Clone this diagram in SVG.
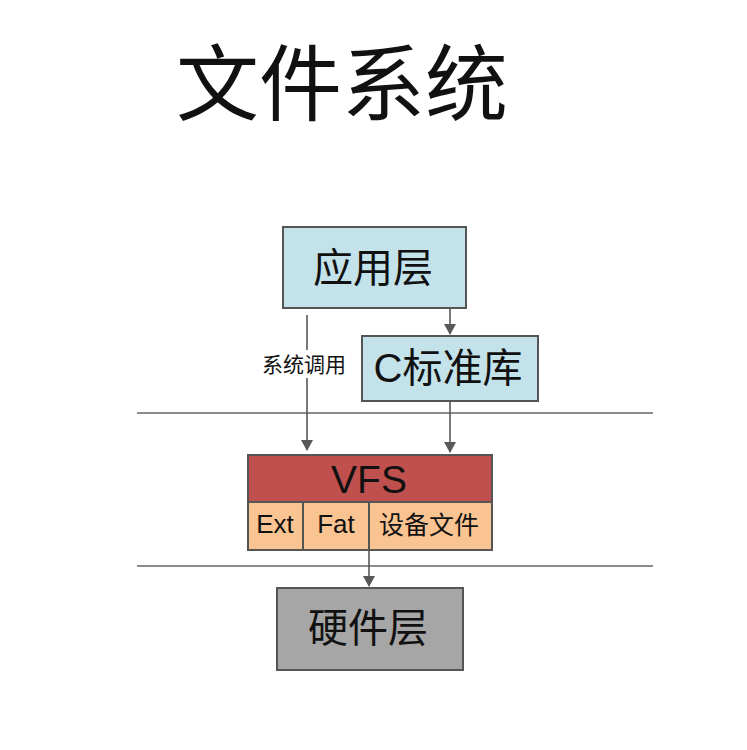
<svg xmlns="http://www.w3.org/2000/svg" width="747" height="750" viewBox="0 0 747 750">
<style>
.cjk{font-family:"Liberation Sans","Noto Sans CJK SC",sans-serif;fill:#111}
.box{stroke:#555;stroke-width:2}
.blue{fill:#c3e2ea}
.ln{stroke:#595959;stroke-width:1.6;fill:none}
.sep{stroke:#666;stroke-width:1.5}
</style>
<defs>
<marker id="ah" markerWidth="12" markerHeight="12" refX="10" refY="6" orient="auto" markerUnits="userSpaceOnUse">
<path d="M0,0 L11,6 L0,12 Z" fill="#595959"/>
</marker>
</defs>
<rect width="747" height="750" fill="#fff"/>
<text class="cjk" x="176" y="114" font-size="83">文件系统</text>
<g id="separators">
<line class="sep" x1="137" y1="413" x2="653" y2="413"/>
<line class="sep" x1="137" y1="566" x2="653" y2="566"/>
</g>
<g id="connectors">
<line class="ln" x1="307" y1="315" x2="307" y2="450" marker-end="url(#ah)"/>
<line class="ln" x1="450" y1="308" x2="450" y2="334" marker-end="url(#ah)"/>
<line class="ln" x1="450" y1="401" x2="450" y2="452" marker-end="url(#ah)"/>
<line class="ln" x1="369" y1="502" x2="369" y2="586" marker-end="url(#ah)"/>
<rect x="259" y="350" width="91" height="28" fill="#fff"/>
<text class="cjk" x="304" y="372" font-size="21" text-anchor="middle">系统调用</text>
</g>
<g id="app">
<rect class="box blue" x="283" y="227" width="183" height="81"/>
<text class="cjk" x="373" y="282" font-size="40" text-anchor="middle">应用层</text>
</g>
<g id="clib">
<rect class="box blue" x="362" y="336" width="176" height="65"/>
<text class="cjk" x="448" y="382" font-size="40" text-anchor="middle">C标准库</text>
</g>
<g id="vfs">
<rect class="box" x="248" y="455" width="244" height="47" fill="#c0504d"/>
<text class="cjk" x="369" y="493" font-size="39" text-anchor="middle">VFS</text>
</g>
<g id="ext">
<rect class="box" x="248" y="502" width="55" height="48" fill="#fac492"/>
<text class="cjk" x="275" y="533" font-size="26" text-anchor="middle">Ext</text>
</g>
<g id="fat">
<rect class="box" x="303" y="502" width="66" height="48" fill="#fac492"/>
<text class="cjk" x="336" y="533" font-size="26" text-anchor="middle">Fat</text>
</g>
<g id="devfile">
<rect class="box" x="369" y="502" width="123" height="48" fill="#fac492"/>
<text class="cjk" x="429" y="534" font-size="25" text-anchor="middle">设备文件</text>
</g>
<g id="hw">
<rect class="box" x="277" y="588" width="186" height="82" fill="#a6a6a6"/>
<text class="cjk" x="368" y="642" font-size="40" text-anchor="middle">硬件层</text>
</g>
</svg>
